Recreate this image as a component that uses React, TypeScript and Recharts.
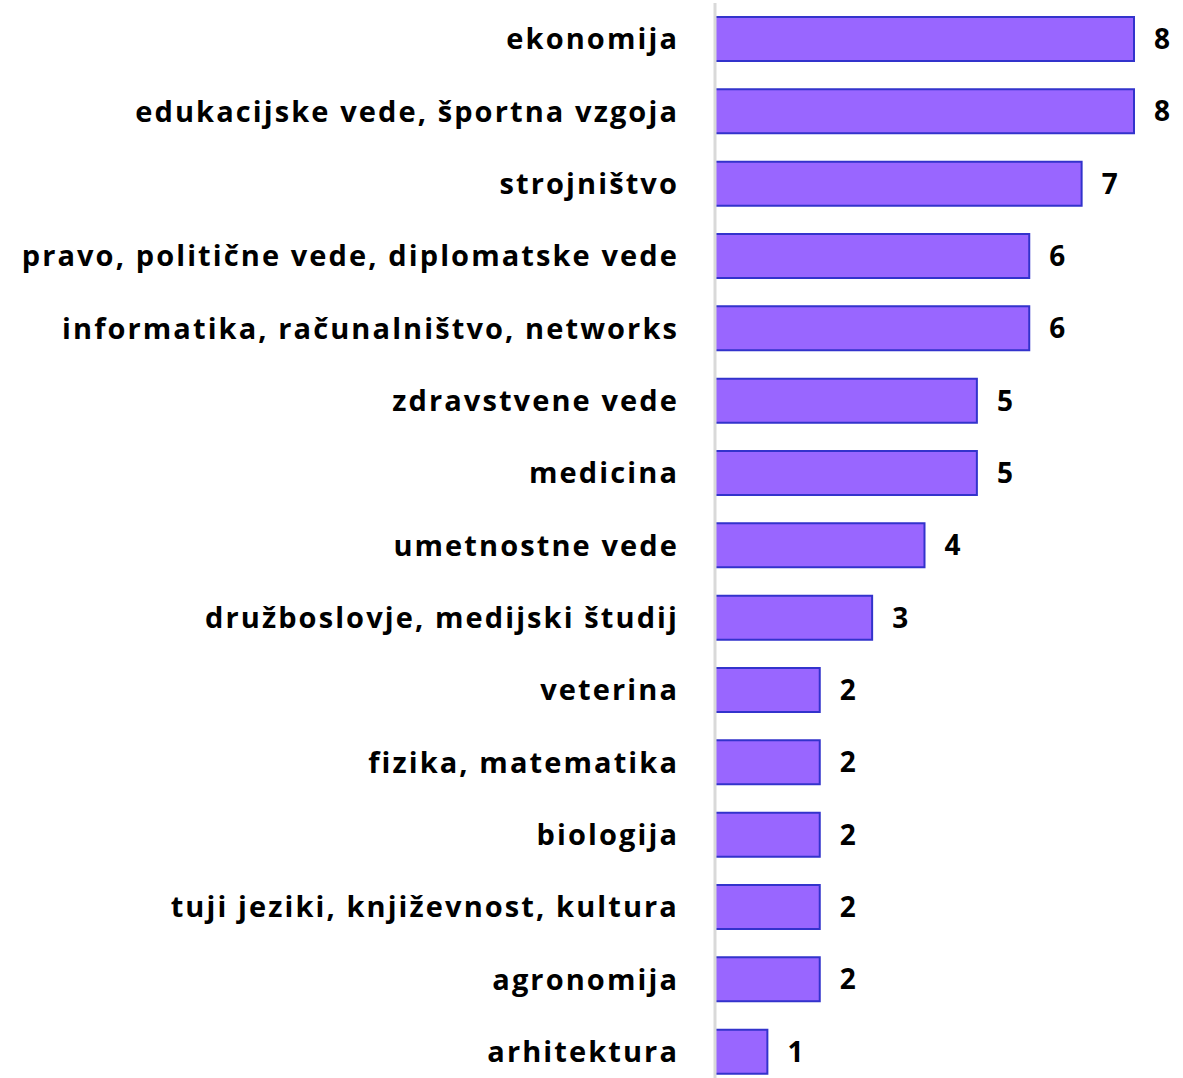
import React from "react";
import { BarChart, Bar, XAxis, YAxis, LabelList } from "recharts";

const categories = [
  "ekonomija",
  "edukacijske vede, športna vzgoja",
  "strojništvo",
  "pravo, politične vede, diplomatske vede",
  "informatika, računalništvo, networks",
  "zdravstvene vede",
  "medicina",
  "umetnostne vede",
  "družboslovje, medijski študij",
  "veterina",
  "fizika, matematika",
  "biologija",
  "tuji jeziki, književnost, kultura",
  "agronomija",
  "arhitektura",
];
const values = [8, 8, 7, 6, 6, 5, 5, 4, 3, 2, 2, 2, 2, 2, 1];

const data = categories.map((name, i) => ({ name, value: values[i] }));

const FONT = "'Open Sans', sans-serif";

const Tick = (props: any) => {
  const { x, y, payload } = props;
  return (
    <text
      x={x - 28}
      y={y}
      dy={10}
      textAnchor="end"
      fontFamily={FONT}
      fontWeight={700}
      fontSize={29}
      letterSpacing={2.1}
      fill="#000"
    >
      {payload.value}
    </text>
  );
};

export default function App() {
  return (
    <div style={{ position: "absolute", left: 0, top: 0 }}>
      <BarChart
        width={1183}
        height={1090}
        data={data}
        layout="vertical"
        margin={{ top: 3, right: 49, bottom: 2, left: 0 }}
      >
        <XAxis type="number" domain={[0, 8]} hide />
        <YAxis
          type="category"
          dataKey="name"
          width={715}
          tick={<Tick />}
          tickLine={false}
          axisLine={{ stroke: "#d9d9d9", strokeWidth: 3 }}
          interval={0}
        />
        <Bar
          dataKey="value"
          fill="#9966ff"
          stroke="#3333cc"
          strokeWidth={2}
          barSize={44}
          isAnimationActive={false}
        >
          <LabelList
            dataKey="value"
            position="right"
            offset={20}
            fontFamily={FONT}
            fontWeight={700}
            fontSize={28}
            fill="#000"
          />
        </Bar>
      </BarChart>
    </div>
  );
}
